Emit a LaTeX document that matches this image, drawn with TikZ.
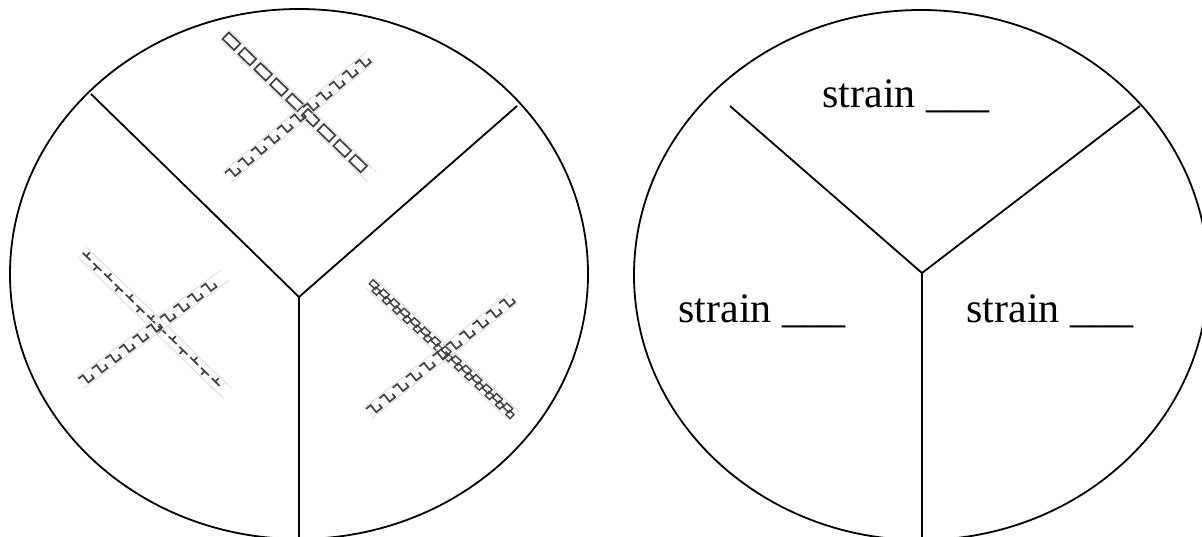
\documentclass[tikz,border=0pt]{standalone}
\usepackage{fontspec}
\setmainfont{Liberation Serif}
\begin{document}
\begin{tikzpicture}[x=0.5pt,y=-0.5pt,
  outline/.style={line width=0.9pt, draw=black},
  chromo/.style={draw=gray!50!black, line width=0.85pt},
  chedge/.style={draw=gray!30, line width=0.4pt},
  lbl/.style={anchor=base west, inner sep=0pt, font=\fontsize{21}{25}\selectfont}]
\useasboundingbox (0,0) rectangle (1202,536);
% ---------- left disc ----------
\draw[outline] (299,274) ellipse [x radius=144.5pt, y radius=132.5pt];
\coordinate (Lc) at (299,297);
\coordinate (Ll) at (91,94);
\coordinate (Lr) at (517,106);
\coordinate (Lb) at (299,545);
\draw[outline] (Ll) -- (Lc) -- (Lr);
\draw[outline] (Lc) -- (Lb);
% ---------- right disc ----------
\draw[outline] (921,275) ellipse [x radius=143.5pt, y radius=132.5pt];
\coordinate (Rc) at (922,273);
\coordinate (Rl) at (730,106);
\coordinate (Rr) at (1140,106);
\coordinate (Rb) at (922,545);
\draw[outline] (Rl) -- (Rc) -- (Rr);
\draw[outline] (Rc) -- (Rb);
\node[lbl] (t1) at (822,107.5) {strain \_\_\_};
\node[lbl] (t2) at (678,322.5) {strain \_\_\_};
\node[lbl] (t3) at (966,322.5) {strain \_\_\_};
% ---------- top chromosome ----------
\begin{scope}[shift={(225,35)}, rotate=-44]
  \draw[chedge] (0,-6.5) -- (204,-6.5) (0,6.5) -- (204,6.5);
  \foreach \u in {0,22,...,190} \draw[chromo] (\u+1,-4.5) rectangle (\u+17,4.5);
\end{scope}
\begin{scope}[shift={(227,177)}, rotate=40]
  \draw[chedge] (0,-6.5) -- (187,-6.5) (0,6.5) -- (187,6.5);
  \foreach \u in {0,17,...,172} \draw[chromo] (\u+1,-4.5) -- (\u+7,-4.5) -- (\u+7,4.5) -- (\u+14,4.5) -- (\u+14,0);
\end{scope}
% ---------- left chromosome ----------
\begin{scope}[shift={(82,252)}, rotate=-44.2]
  \draw[chedge] (0,-6.5) -- (202,-6.5) (0,6.5) -- (202,6.5);
  \foreach \u in {0,15,...,190} \draw[chromo] (\u+1,0) -- (\u+12,0);
  \foreach \u in {6,36,...,200} \draw[chromo] (\u,0) -- (\u,-5);
  \foreach \u in {21,51,...,200} \draw[chromo] (\u,0) -- (\u,5);
\end{scope}
\begin{scope}[shift={(80,383)}, rotate=36.7]
  \draw[chedge] (0,-6.5) -- (181,-6.5) (0,6.5) -- (181,6.5);
  \foreach \u in {0,17,...,166} \draw[chromo] (\u+1,-4.5) -- (\u+7,-4.5) -- (\u+7,4.5) -- (\u+14,4.5) -- (\u+14,0);
\end{scope}
% ---------- right chromosome ----------
\begin{scope}[shift={(370,283)}, rotate=-42.7]
  \draw[chedge] (0,-6.5) -- (197,-6.5) (0,6.5) -- (197,6.5);
  \foreach \u in {0,14,...,184} {
    \draw[chromo, line width=0.7pt] (\u,-4.5) rectangle (\u+8,1);
    \draw[chromo, line width=0.7pt] (\u+7,-1) rectangle (\u+13,4.5);
  }
\end{scope}
\begin{scope}[shift={(368,413)}, rotate=38.4]
  \draw[chedge] (0,-6.5) -- (185,-6.5) (0,6.5) -- (185,6.5);
  \foreach \u in {0,17,...,170} \draw[chromo] (\u+1,-4.5) -- (\u+7,-4.5) -- (\u+7,4.5) -- (\u+14,4.5) -- (\u+14,0);
\end{scope}
\end{tikzpicture}
\end{document}
